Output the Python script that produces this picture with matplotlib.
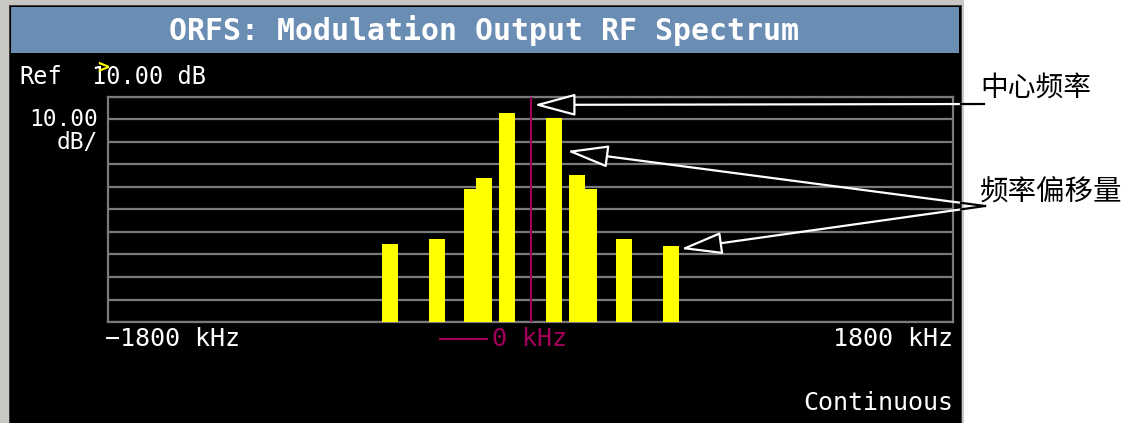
import matplotlib
matplotlib.use("Agg")
import matplotlib.pyplot as plt
from matplotlib.patches import Rectangle, ConnectionPatch
from matplotlib.lines import Line2D

# ORFS offsets (kHz) and levels (dB)
offsets = [-600, -400, -250, -200, -100, 100, 200, 250, 400, 600]
levels = [-55.3, -53.2, -30.8, -25.9, 2.8, 0.8, -24.8, -30.8, -53.2, -56.2]
bar_width = 68

span = (-1800, 1800)
ref_level = 10.0
db_per_div = 10.0
n_div = 10

title = "ORFS: Modulation Output RF Spectrum"
center_label = "中心频率"
offset_label = "频率偏移量"
# arrow targets in data coords (kHz, dB)
center_target = (15, 6.5)
offset_targets = [(155, -14), (640, -57.5)]

W, H = 1132, 423
mono = "DejaVu Sans Mono"
cjk = ["Noto Sans CJK SC", "DejaVu Sans"]
grey = "#7a7a7a"
magenta = "#a3005c"
yellow = "#ffff00"
screen_right = 961


def fx(x):
    return x / W


def fy(y):  # y measured from the top of the picture
    return 1 - y / H


def box(x0, y0, x1, y1, color, z):
    r = Rectangle((fx(x0), fy(y1)), fx(x1) - fx(x0), fy(y0) - fy(y1),
                  transform=fig.transFigure, facecolor=color,
                  edgecolor="none", zorder=z)
    fig.add_artist(r)
    return r


fig = plt.figure(figsize=(W / 100, H / 100), dpi=100, facecolor="white")

# instrument frame
box(0, 0, 964, 423, "#c9c7c3", 0)
box(9, 5, 962, 423, "#3c3c3c", 0.1)
panel = box(10, 6, screen_right, 423, "black", 1)
box(11, 7, 959, 53, "#6a8db3", 1.1)

ax = fig.add_axes([fx(108), fy(322), fx(953) - fx(108), fy(97) - fy(322)])
ax.set_zorder(2)
ax.set_facecolor("black")
ax.set_xlim(*span)
ax.set_ylim(ref_level - n_div * db_per_div, ref_level)
ax.set_yticks([ref_level - i * db_per_div for i in range(n_div + 1)])
ax.set_xticks([])
ax.yaxis.grid(True, color=grey, lw=1.6)
ax.tick_params(length=0, labelleft=False)
ax.set_axisbelow(True)
for s in ax.spines.values():
    s.set_color(grey)
    s.set_linewidth(1.6)

bottom = ref_level - n_div * db_per_div
ax.bar(offsets, [v - bottom for v in levels], bottom=bottom, width=bar_width,
       color=yellow, edgecolor="none", zorder=3)
ax.axvline(0, color=magenta, lw=1.5, zorder=4)

# text on the screen
fig.text(fx(484), fy(30), title, color="white", family=mono,
         fontweight="bold", fontsize=21.5, ha="center", va="center", zorder=5)
fig.text(fx(19), fy(77), "Ref", color="white", family=mono, fontsize=17,
         ha="left", va="center", zorder=5)
fig.text(fx(92), fy(77), "10.00 dB", color="white", family=mono, fontsize=17,
         ha="left", va="center", zorder=5)
fig.text(fx(103), fy(68), ">", color=yellow, family=mono, fontsize=14,
         fontweight="bold", ha="center", va="center", zorder=6)
fig.text(fx(98), fy(119), "10.00", color="white", family=mono, fontsize=16.5,
         ha="right", va="center", zorder=5)
fig.text(fx(98), fy(142), "dB/", color="white", family=mono, fontsize=16.5,
         ha="right", va="center", zorder=5)
fig.text(fx(105), fy(339), "\u22121800 kHz", color="white", family=mono,
         fontsize=18, ha="left", va="center", zorder=5)
fig.text(fx(953), fy(339), "1800 kHz", color="white", family=mono,
         fontsize=18, ha="right", va="center", zorder=5)
fig.text(fx(492), fy(339), "0 kHz", color=magenta, family=mono,
         fontsize=18, ha="left", va="center", zorder=5)
fig.add_artist(Line2D([fx(440), fx(487)], [fy(339), fy(339)], color=magenta,
                      lw=1.5, transform=fig.transFigure, zorder=5))
fig.text(fx(953), fy(403), "Continuous", color="white", family=mono,
         fontsize=18, ha="right", va="center", zorder=5)

# callouts outside the screen
fig.text(fx(980), fy(88), center_label, color="black", family=cjk,
         fontsize=20, ha="left", va="center", zorder=5)
fig.text(fx(980), fy(192), offset_label, color="black", family=cjk,
         fontsize=20.5, ha="left", va="center", zorder=5)

style = "-|>,head_length=2.6,head_width=0.7"
callouts = [((984, H - 104), center_target)]
callouts += [((985, H - 206), t) for t in offset_targets]
for start, target in callouts:
    # white part on the screen
    cp = ConnectionPatch(xyA=start, coordsA="figure pixels",
                         xyB=target, coordsB=ax.transData,
                         arrowstyle=style, mutation_scale=10,
                         shrinkA=0, shrinkB=0, lw=1.6,
                         edgecolor="white", facecolor="black", zorder=4.5)
    cp.set_clip_path(panel)
    fig.add_artist(cp)
    # black leader from the label to the screen edge
    tx, ty = ax.transData.transform(target)
    sx, sy = start
    t = (sx - screen_right) / (sx - tx)
    ex, ey = screen_right, sy + t * (ty - sy)
    fig.add_artist(Line2D([sx / W, ex / W], [sy / H, ey / H], color="black",
                          lw=1.6, transform=fig.transFigure, zorder=6))

fig.savefig("out.png", dpi=100, facecolor="white")
